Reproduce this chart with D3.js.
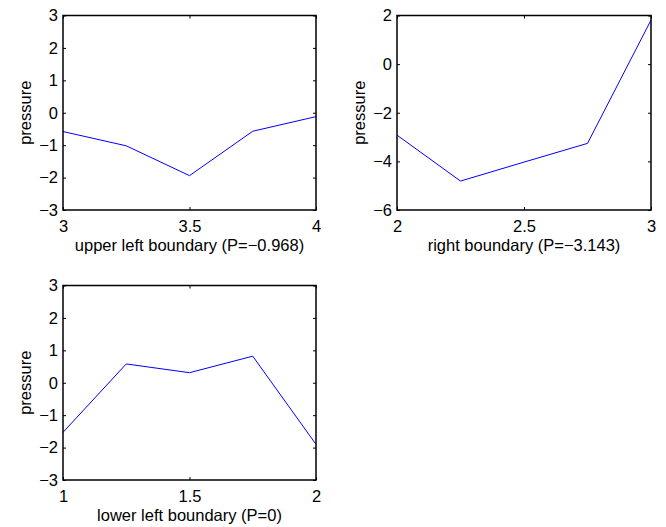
<!DOCTYPE html>
<html>
<head>
<meta charset="utf-8">
<script src="https://cdn.jsdelivr.net/npm/d3@7"></script>
<style>
  html, body { margin: 0; padding: 0; background: #fff; }
  svg { display: block; }
  text { font-family: "Liberation Sans", Arial, Helvetica, sans-serif; fill: #000; }
</style>
</head>
<body>
<svg id="chart" width="666" height="527"></svg>
<script>
// Pressure along each boundary segment
const upperLeftX = [3, 3.25, 3.5, 3.75, 4];
const upperLeftP = [-0.58, -1.02, -1.94, -0.57, -0.12];
const upperLeftXTicks = [3, 3.5, 4];
const upperLeftYTicks = [-3, -2, -1, 0, 1, 2, 3];

const rightX = [2, 2.25, 2.5, 2.75, 3];
const rightP = [-2.92, -4.81, -4.03, -3.26, 1.81];
const rightXTicks = [2, 2.5, 3];
const rightYTicks = [-6, -4, -2, 0, 2];

const lowerLeftX = [1, 1.25, 1.5, 1.75, 2];
const lowerLeftP = [-1.53, 0.58, 0.31, 0.82, -1.90];
const lowerLeftXTicks = [1, 1.5, 2];
const lowerLeftYTicks = [-3, -2, -1, 0, 1, 2, 3];

const panels = [
  { x: upperLeftX, y: upperLeftP, xTicks: upperLeftXTicks, yTicks: upperLeftYTicks,
    xDomain: [3, 4], yDomain: [-3, 3], label: "upper left boundary (P=\u22120.968)",
    left: 63, top: 15.5, width: 253, height: 194.5 },
  { x: rightX, y: rightP, xTicks: rightXTicks, yTicks: rightYTicks,
    xDomain: [2, 3], yDomain: [-6, 2], label: "right boundary (P=\u22123.143)",
    left: 397, top: 15.5, width: 254, height: 194.5 },
  { x: lowerLeftX, y: lowerLeftP, xTicks: lowerLeftXTicks, yTicks: lowerLeftYTicks,
    xDomain: [1, 2], yDomain: [-3, 3], label: "lower left boundary (P=0)",
    left: 63, top: 285.5, width: 253, height: 194.5 }
];

const svg = d3.select("#chart");
const fmt = v => String(v).replace("-", "\u2212");
const fontSize = "16.5px";
const tickLen = 3;

panels.forEach(p => {
  const g = svg.append("g").attr("transform", `translate(${p.left},${p.top})`);
  const xs = d3.scaleLinear().domain(p.xDomain).range([0, p.width]);
  const ys = d3.scaleLinear().domain(p.yDomain).range([p.height, 0]);

  // data line
  g.append("path")
    .datum(p.x.map((v, i) => [v, p.y[i]]))
    .attr("fill", "none")
    .attr("stroke", "#0000ff")
    .attr("stroke-width", 1)
    .attr("d", d3.line().x(d => xs(d[0])).y(d => ys(d[1])));

  // axes with inward ticks on all four sides
  const styleAxis = sel => {
    sel.attr("font-family", null).attr("font-size", null);
    sel.select(".domain").remove();
    sel.selectAll(".tick line").attr("stroke", "#000").attr("stroke-width", 1);
    sel.selectAll(".tick text").style("font-size", fontSize);
  };
  g.append("g").attr("transform", `translate(0,${p.height})`)
    .call(d3.axisBottom(xs).tickValues(p.xTicks).tickFormat(fmt).tickSizeInner(-tickLen).tickSizeOuter(0).tickPadding(10))
    .call(styleAxis);
  g.append("g")
    .call(d3.axisTop(xs).tickValues(p.xTicks).tickFormat("").tickSizeInner(-tickLen).tickSizeOuter(0))
    .call(styleAxis);
  g.append("g")
    .call(d3.axisLeft(ys).tickValues(p.yTicks).tickFormat(fmt).tickSizeInner(-tickLen).tickSizeOuter(0).tickPadding(5))
    .call(styleAxis);
  g.append("g").attr("transform", `translate(${p.width},0)`)
    .call(d3.axisRight(ys).tickValues(p.yTicks).tickFormat("").tickSizeInner(-tickLen).tickSizeOuter(0))
    .call(styleAxis);

  // frame
  g.append("rect")
    .attr("x", 0).attr("y", 0).attr("width", p.width).attr("height", p.height)
    .attr("fill", "none").attr("stroke", "#000").attr("stroke-width", 1.5);

  // labels
  g.append("text")
    .attr("x", p.width / 2).attr("y", p.height + 41)
    .attr("text-anchor", "middle").style("font-size", fontSize)
    .text(p.label);
  g.append("text")
    .attr("transform", `translate(-32,${p.height / 2}) rotate(-90)`)
    .attr("text-anchor", "middle").style("font-size", fontSize)
    .text("pressure");
});
</script>
</body>
</html>
